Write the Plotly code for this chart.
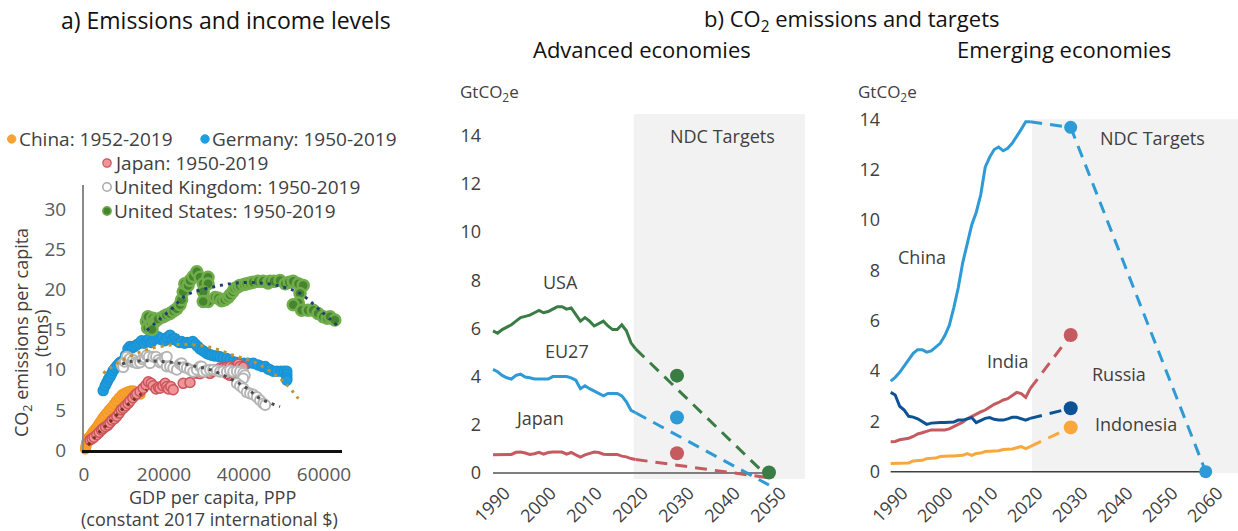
import plotly.graph_objects as go

W, H = 1238, 531
FONT = "'Open Sans', Roboto, sans-serif"
TXT = "#404040"

# ---------------- Panel a: emissions vs income (scatter) ----------------
cn_gdp = [300, 350, 400, 450, 500, 550, 600, 650, 700, 750, 800, 850, 900, 950,
          1000, 1100, 1200, 1300, 1400, 1500, 1600, 1800, 2000, 2200, 2400, 2700,
          3000, 3300, 3700, 4100, 4600, 5100, 5600, 6200, 6800, 7400, 8000, 8700,
          9400, 10100, 10900, 11700, 12400, 13100, 13700, 14100]
cn_co2 = [0.1, 0.2, 0.4, 0.6, 0.3, 0.8, 0.5, 1.0, 1.1, 0.9, 1.2, 1.3, 1.4, 1.5,
          1.3, 1.4, 1.5, 1.6, 1.65, 1.7, 1.8, 1.95, 2.1, 2.25, 2.4, 2.6,
          2.7, 3.0, 3.3, 3.6, 4.0, 4.3, 4.6, 5.0, 5.3, 5.7, 6.1, 6.5,
          6.9, 7.1, 7.3, 7.4, 7.4, 7.2, 7.0, 6.9]

de_gdp = [4800, 5300, 5700, 6100, 6500, 6900, 7300, 7800, 8300, 8800, 9300, 9800,
          10400, 11000, 11500, 12000, 12600, 13200, 13800, 14400, 15000, 15600,
          16200, 16800, 17300, 17900, 18500, 19000, 19600, 20200, 20800, 21500,
          22100, 22700, 23200, 23800, 24400, 25100, 25800, 26500, 27200, 27800,
          28400, 29000, 29600, 30200, 30800, 31400, 31900, 32600, 33300, 34000,
          34800, 35700, 36500, 37300, 38200, 39000, 40000, 41000, 42300, 43500,
          44500, 45300, 46000, 46500, 47300, 48200, 49200, 50000, 50700, 50700,
          50700, 50700]
de_co2 = [7.4, 8.0, 8.4, 8.8, 9.1, 9.5, 9.9, 10.2, 10.5, 10.8, 11.0, 11.1,
          11.8, 12.6, 12.9, 12.7, 12.9, 13.1, 13.3, 13.6, 13.3, 13.6,
          13.8, 13.4, 13.7, 13.9, 14.1, 13.8, 13.9, 13.6, 14.0, 14.3,
          13.8, 13.9, 13.6, 13.4, 13.5, 13.3, 13.4, 13.4, 13.5, 13.2,
          12.9, 12.6, 12.4, 12.2, 12.0, 11.9, 11.8, 11.7, 11.7, 11.6,
          11.5, 11.4, 11.2, 11.0, 10.9, 10.8, 10.8, 10.8, 10.8, 10.6,
          10.4, 10.4, 10.1, 10.0, 9.8, 9.8, 9.8, 9.8, 9.8, 9.4,
          9.0, 8.7]

jp_gdp = [1500, 2000, 2500, 3200, 3800, 4400, 4800, 5400, 6000, 6500, 7000, 7600,
          8200, 8800, 9300, 9800, 10400, 11000, 11500, 12200, 12800, 13200, 14000,
          14800, 15500, 16100, 16800, 17300, 18000, 18600, 19000, 19700, 20300,
          20700, 21100, 21700, 22300, 24800, 26500, 28200, 29000, 29800, 30600,
          31500, 32300, 33200, 34000, 34800, 35700, 36500, 37300, 38200, 38600,
          39000, 39800, 38200, 36500, 35700]
jp_co2 = [1.25, 1.4, 1.6, 1.9, 2.2, 2.5, 2.7, 2.9, 3.1, 3.4, 3.7, 3.9,
          4.2, 4.6, 5.0, 5.2, 5.5, 5.8, 6.1, 6.5, 6.85, 7.0, 7.3,
          7.7, 8.1, 8.5, 8.3, 8.0, 7.6, 7.8, 7.7, 8.0, 8.3,
          7.9, 7.6, 7.9, 7.5, 8.3, 8.4, 9.55, 9.5, 9.7, 9.9,
          9.55, 9.8, 10.0, 10.2, 10.2, 10.3, 10.4, 10.3, 10.5, 10.7,
          10.4, 10.3, 9.6, 9.3, 9.5]

uk_gdp = [9400, 9800, 10200, 10700, 11100, 11500, 12000, 12300, 12800, 13300,
          14000, 14600, 15200, 15700, 16200, 16500, 17300, 18000, 18600, 19000,
          19500, 20200, 20700, 20700, 21500, 22300, 23200, 24000, 24400, 25000,
          25700, 26500, 27300, 28200, 29000, 29400, 29800, 30600, 31500, 32300,
          33200, 34000, 34800, 35700, 36500, 37300, 38200, 39000, 39800, 40200,
          39800, 38200, 39000, 39800, 40700, 41500, 42300, 43200, 44000, 44800,
          45300]
uk_co2 = [10.6, 10.3, 11.0, 11.6, 11.2, 11.4, 11.0, 11.2, 10.9, 10.8,
          10.9, 11.3, 11.5, 11.8, 11.6, 10.8, 11.6, 11.6, 11.2, 10.9,
          11.0, 11.5, 11.6, 10.4, 10.4, 10.2, 10.0, 10.7, 10.8, 10.3,
          10.2, 10.0, 9.75, 10.0, 10.4, 10.4, 9.75, 9.9, 10.0, 10.0,
          9.9, 9.75, 9.8, 9.75, 9.9, 9.75, 9.8, 9.75, 9.6, 9.3,
          8.9, 8.3, 8.0, 7.7, 7.2, 7.05, 6.9, 6.6, 6.2, 5.8,
          5.6]

us_gdp = [15600, 15900, 16300, 16000, 16800, 17200, 17600, 18000, 17000, 18500,
          19800, 20600, 21500, 22400, 23200, 24000, 24400, 24800, 25200, 26000,
          26500, 27300, 28200, 29000, 29800, 31000, 31000, 29800, 31000, 29800,
          32800, 33600, 34400, 35200, 36000, 36500, 37200, 37700, 38400, 39000,
          40000, 40700, 41500, 42300, 43500, 44800, 46000, 46500, 47500, 49000,
          50300, 51300, 52300, 53600, 54800, 54000, 53600, 52300, 54400, 56000,
          57300, 58500, 59800, 60800, 61500, 62700]
us_co2 = [16.0, 15.2, 16.3, 16.6, 15.6, 16.4, 15.9, 16.2, 15.0, 16.3,
          16.6, 16.8, 17.0, 17.3, 17.6, 18.1, 18.7, 19.7, 20.7, 20.5,
          21.1, 21.6, 22.2, 21.5, 20.7, 21.5, 20.7, 19.7, 18.5, 18.5,
          19.0, 18.9, 18.6, 18.7, 19.0, 19.3, 19.7, 20.1, 20.3, 20.5,
          20.6, 20.7, 20.8, 20.9, 21.0, 21.0, 20.8, 21.0, 21.0, 21.1,
          20.7, 20.9, 21.0, 20.7, 20.5, 19.5, 18.3, 18.1, 17.4, 17.4,
          17.4, 17.0, 16.6, 16.4, 16.6, 16.2]

# trend lines
cn_tr_x = [1000, 4000, 6500, 9400, 12300, 15700]
cn_tr_y = [0.6, 2.3, 3.5, 5.0, 6.2, 7.5]
de_tr_x = [4800, 9000, 15700, 22300, 27300, 32300, 37300, 42300, 47300, 50700, 53600]
de_tr_y = [9.55, 11.0, 12.5, 13.1, 13.1, 12.7, 11.8, 11.0, 9.55, 8.1, 6.4]
uk_tr_x = [9500, 11500, 15700, 20000, 24000, 28000, 31500, 36500, 40700, 44000, 49000]
uk_tr_y = [10.7, 11.0, 11.1, 11.0, 10.8, 10.4, 10.0, 8.9, 7.7, 6.4, 5.4]
us_tr_x = [15700, 21500, 25700, 32300, 38200, 44000, 49000, 54000, 59000, 64000]
us_tr_y = [14.9, 17.4, 19.3, 20.3, 20.8, 20.8, 20.4, 19.5, 17.4, 15.2]

# ---------------- Panel b: advanced economies ----------------
years = list(range(1990, 2022))
usa = [5.9, 5.8, 5.95, 6.05, 6.15, 6.3, 6.45, 6.5, 6.55, 6.65, 6.75, 6.65, 6.7, 6.8,
       6.9, 6.9, 6.8, 6.85, 6.6, 6.3, 6.45, 6.3, 6.1, 6.2, 6.3, 6.1, 5.95, 5.95,
       6.15, 5.9, 5.4, 5.15]
eu27 = [4.3, 4.2, 4.05, 3.95, 3.9, 4.05, 4.1, 3.98, 3.95, 3.9, 3.9, 3.9, 3.9, 4.0,
        4.0, 4.0, 4.0, 3.95, 3.85, 3.5, 3.62, 3.5, 3.4, 3.3, 3.2, 3.3, 3.3, 3.3,
        3.2, 2.95, 2.6, 2.5]
japan = [0.76, 0.76, 0.76, 0.76, 0.77, 0.86, 0.87, 0.83, 0.77, 0.8, 0.86, 0.78, 0.85,
         0.87, 0.87, 0.87, 0.78, 0.85, 0.75, 0.66, 0.75, 0.82, 0.87, 0.85, 0.78, 0.77,
         0.77, 0.77, 0.7, 0.67, 0.6, 0.56]
path_years_adv = [2021, 2050]
usa_path = [5.15, -0.2]
eu27_path = [2.5, -0.5]
japan_path = [0.56, -0.2]
target_year = [2030]
usa_2030 = [4.04]
eu27_2030 = [2.3]
japan_2030 = [0.82]
usa_2050 = [0.02]

# ---------------- Panel c: emerging economies ----------------
china = [3.6, 3.75, 3.95, 4.2, 4.45, 4.7, 4.85, 4.85, 4.75, 4.8, 4.95, 5.1, 5.4, 5.8,
         6.5, 7.3, 8.3, 9.1, 9.8, 10.3, 11.0, 12.1, 12.5, 12.8, 12.9, 12.75, 12.85,
         13.05, 13.3, 13.6, 13.9, 13.9]
india = [1.19, 1.2, 1.27, 1.3, 1.33, 1.4, 1.5, 1.55, 1.62, 1.66, 1.66, 1.66, 1.66, 1.7,
         1.78, 1.87, 1.97, 2.1, 2.2, 2.3, 2.38, 2.45, 2.58, 2.68, 2.75, 2.85, 2.9,
         3.02, 3.15, 3.1, 2.95, 3.3]
russia = [3.15, 3.05, 2.6, 2.45, 2.2, 2.17, 2.1, 1.99, 1.88, 1.93, 1.95, 1.95, 1.95,
          1.95, 1.97, 2.05, 2.05, 2.1, 2.15, 1.95, 2.05, 2.12, 2.15, 2.08, 2.05, 2.05,
          2.1, 2.16, 2.16, 2.1, 2.05, 2.12]
indonesia = [0.33, 0.33, 0.33, 0.33, 0.35, 0.43, 0.44, 0.45, 0.52, 0.53, 0.54, 0.6,
             0.62, 0.62, 0.62, 0.63, 0.65, 0.72, 0.65, 0.72, 0.74, 0.8, 0.81, 0.81,
             0.83, 0.88, 0.9, 0.9, 0.95, 1.0, 0.92, 1.0]
path_years_em = [2021, 2030]
china_path = [13.9, 13.68]
india_path = [3.3, 5.43]
russia_path = [2.12, 2.52]
indonesia_path = [1.0, 1.76]
china_nz_years = [2030, 2060]
china_nz_path = [13.68, 0.0]
china_targets = [13.68, 0.0]
india_2030 = [5.43]
russia_2030 = [2.52]
indonesia_2030 = [1.76]

# colours
C_CN, C_DE, C_JP_F, C_JP_E = "#f8a233", "#1e9de0", "#ee9599", "#cc545a"
C_UK_E, C_US_F, C_US_E = "#b5b5b5", "#45852f", "#72ad4c"
G_US, B_EU, R_JP = "#3a7d44", "#2e9bd6", "#c55a60"
B_CN, R_IN, B_RU, O_ID = "#2e9bd6", "#c55a60", "#0b5394", "#f8a73c"

fig = go.Figure()

def mk(x, y, fill, edge, lw=1.5, size=10):
    fig.add_trace(go.Scatter(x=x, y=y, mode="markers", xaxis="x", yaxis="y",
                             cliponaxis=False, showlegend=False,
                             marker=dict(size=size, color=fill, line=dict(color=edge, width=lw))))

mk(cn_gdp, cn_co2, C_CN, "#f39a25", size=9)
mk(de_gdp, de_co2, C_DE, "#1a93d4")
mk(jp_gdp, jp_co2, C_JP_F, C_JP_E)
mk(uk_gdp, uk_co2, "white", C_UK_E, lw=2)
mk(us_gdp, us_co2, C_US_F, C_US_E, lw=2.5, size=11)

def trend(x, y, color):
    fig.add_trace(go.Scatter(x=x, y=y, mode="lines", xaxis="x", yaxis="y", showlegend=False,
                             line=dict(color=color, width=3, dash="3px,5px", shape="spline")))

trend(cn_tr_x, cn_tr_y, "#7b3414")
trend(de_tr_x, de_tr_y, "#c4922c")
trend(uk_tr_x, uk_tr_y, "#4d4d4d")
trend(us_tr_x, us_tr_y, "#1f3f73")

DASH = "12px,8px"

def line(x, y, color, xa, ya, dash=None, w=3):
    fig.add_trace(go.Scatter(x=x, y=y, mode="lines", xaxis=xa, yaxis=ya, showlegend=False,
                             line=dict(color=color, width=w, dash=dash)))

def dots(x, y, color, xa, ya, size=14):
    fig.add_trace(go.Scatter(x=x, y=y, mode="markers", xaxis=xa, yaxis=ya, showlegend=False,
                             cliponaxis=False, marker=dict(size=size, color=color)))

# panel b
line(years, usa, G_US, "x2", "y2")
line(years, eu27, B_EU, "x2", "y2")
line(years, japan, R_JP, "x2", "y2")
line(path_years_adv, usa_path, G_US, "x2", "y2", DASH)
line(path_years_adv, eu27_path, B_EU, "x2", "y2", DASH)
line(path_years_adv, japan_path, R_JP, "x2", "y2", DASH)
dots(target_year, usa_2030, G_US, "x2", "y2")
dots(target_year, eu27_2030, B_EU, "x2", "y2")
dots(target_year, japan_2030, R_JP, "x2", "y2")
dots([2050], usa_2050, G_US, "x2", "y2")

# panel c
line(years, china, B_CN, "x3", "y3")
line(years, india, R_IN, "x3", "y3")
line(years, russia, B_RU, "x3", "y3")
line(years, indonesia, O_ID, "x3", "y3")
line(path_years_em, china_path, B_CN, "x3", "y3", DASH)
line(china_nz_years, china_nz_path, B_CN, "x3", "y3", DASH)
line(path_years_em, india_path, R_IN, "x3", "y3", DASH)
line(path_years_em, russia_path, B_RU, "x3", "y3", DASH)
line(path_years_em, indonesia_path, O_ID, "x3", "y3", DASH)
dots(china_nz_years, china_targets, B_CN, "x3", "y3", 13)
dots(target_year, india_2030, R_IN, "x3", "y3")
dots(target_year, russia_2030, B_RU, "x3", "y3")
dots(target_year, indonesia_2030, O_ID, "x3", "y3")

def px(x):
    return x / W

def py(y):
    return 1 - y / H

tickfont = dict(family=FONT, size=19, color="#595959")
tickfont_b = dict(family=FONT, size=18, color=TXT)

layout_axes = dict(
    xaxis=dict(domain=[px(84), px(342)], range=[0, 64500], tickvals=[0, 20000, 40000, 60000],
               tickformat="d", showgrid=False, zeroline=False, showline=True,
               linecolor="#111111", linewidth=2.5, ticks="", tickfont=tickfont,
               ticklabelstandoff=5, anchor="y", automargin=False),
    yaxis=dict(domain=[py(450), py(185)], range=[0, 33], tickvals=[0, 5, 10, 15, 20, 25, 30],
               showgrid=False, zeroline=False, showline=True, linecolor="#8a8a8a",
               linewidth=2, ticks="", tickfont=tickfont, ticklabelstandoff=12, anchor="x",
               automargin=False),
    xaxis2=dict(domain=[px(484), px(810)], range=[1990 - 9 / 4.6, 1990 + (810 - 493) / 4.6],
                tickvals=list(range(1990, 2051, 10)), tickangle=-45, showgrid=False,
                zeroline=False, showline=False, ticks="", tickfont=tickfont_b,
                ticklabelshift=12, ticklabelstandoff=0, anchor="free", position=py(478),
                automargin=False),
    yaxis2=dict(domain=[py(487), py(80)], range=[(473 - 487) / 24.1, (473 - 80) / 24.1],
                tickvals=list(range(0, 15, 2)), showgrid=False, zeroline=False,
                showline=False, ticks="", tickfont=tickfont_b, ticklabelstandoff=2, anchor="x2",
                automargin=False),
    xaxis3=dict(domain=[px(883), px(1238)], range=[1990 - 7.7 / 4.5, 1990 + (1238 - 890.7) / 4.5],
                tickvals=list(range(1990, 2061, 10)), tickangle=-45, showgrid=False,
                zeroline=False, showline=False, ticks="", tickfont=tickfont_b,
                ticklabelshift=12, ticklabelstandoff=0, anchor="free", position=py(478),
                automargin=False),
    yaxis3=dict(domain=[py(487), py(80)], range=[(471.7 - 487) / 25.17, (471.7 - 80) / 25.17],
                tickvals=list(range(0, 15, 2)), showgrid=False, zeroline=False,
                showline=False, ticks="", tickfont=tickfont_b, ticklabelstandoff=2, anchor="x3",
                automargin=False),
)

shapes = [
    dict(type="rect", xref="x2", yref="y2", x0=2020.6, x1=2057.8, y0=-0.25, y1=14.9,
         fillcolor="#f2f2f2", line=dict(width=0), layer="below"),
    dict(type="rect", xref="x3", yref="y3", x0=2021.4, x1=2075, y0=-0.05, y1=14.0,
         fillcolor="#f2f2f2", line=dict(width=0), layer="below"),
    dict(type="line", xref="x2", yref="y2", x0=1990, x1=2049, y0=0, y1=0,
         line=dict(color="#7f7f7f", width=2), layer="below"),
    dict(type="line", xref="x3", yref="y3", x0=1990, x1=2060, y0=0, y1=0,
         line=dict(color="#404040", width=1.5), layer="below"),
]

# legend markers for panel a
legend_items = [
    ("China: 1952-2019", 11.7, 139, C_CN, C_CN, 1),
    ("Germany: 1950-2019", 205, 139, C_DE, C_DE, 1),
    ("Japan: 1950-2019", 107, 163, C_JP_F, C_JP_E, 1.2),
    ("United Kingdom: 1950-2019", 107, 187, "white", "#a9a9a9", 1.5),
    ("United States: 1950-2019", 107, 211, C_US_F, C_US_E, 1.5),
]
annotations = []
r = 4.2
for label, cx, cy, fill, edge, lw in legend_items:
    shapes.append(dict(type="circle", xref="paper", yref="paper",
                       x0=px(cx - r), x1=px(cx + r), y0=py(cy + r), y1=py(cy - r),
                       fillcolor=fill, line=dict(color=edge, width=lw)))
    annotations.append(dict(text=label, x=px(cx + 5), y=py(cy), xref="paper", yref="paper",
                            xanchor="left", yanchor="middle", showarrow=False,
                            font=dict(family=FONT, size=19, color=TXT)))

def ann(text, x, y, size=18, color=TXT, xanchor="center", angle=0):
    annotations.append(dict(text=text, x=px(x), y=py(y), xref="paper", yref="paper",
                            xanchor=xanchor, yanchor="middle", showarrow=False,
                            textangle=angle, font=dict(family=FONT, size=size, color=color)))

ann("a) Emissions and income levels", 226, 20, size=23, color="#111111")
ann("b) CO<sub>2</sub> emissions and targets", 851, 20, size=22, color="#111111")
ann("Advanced economies", 642, 49, size=22, color="#111111")
ann("Emerging economies", 1064, 49, size=22, color="#111111")
ann("CO<sub>2</sub> emissions per capita", 22, 333, size=18, angle=-90)
ann("(tons)", 41, 334, size=18, angle=-90)
ann("GDP per capita, PPP", 212, 497, size=18)
ann("(constant 2017 international $)", 210, 519, size=18)
ann("GtCO<sub>2</sub>e", 458, 92, size=17, xanchor="left")
ann("GtCO<sub>2</sub>e", 856, 92, size=17, xanchor="left")
ann("NDC Targets", 722, 136)
ann("NDC Targets", 1152, 138)
ann("USA", 560, 282)
ann("EU27", 567, 351)
ann("Japan", 539, 418)
ann("China", 922, 257)
ann("India", 1008, 361)
ann("Russia", 1119, 374)
ann("Indonesia", 1136, 424)

fig.update_layout(
    width=W, height=H, autosize=False, margin=dict(l=0, r=0, t=0, b=0, autoexpand=False),
    paper_bgcolor="white", plot_bgcolor="rgba(0,0,0,0)",
    font=dict(family=FONT, color=TXT), showlegend=False,
    shapes=shapes, annotations=annotations, **layout_axes,
)

fig.write_html("out.html", config={"displayModeBar": False},
               post_script="document.body.style.margin='0px';")
